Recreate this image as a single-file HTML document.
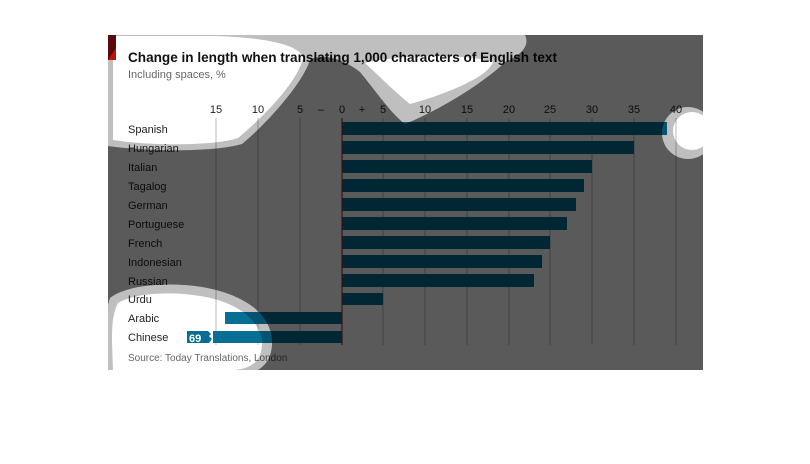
<!DOCTYPE html>
<html><head><meta charset="utf-8"><style>
body{margin:0;background:#fff;width:810px;height:464px;overflow:hidden}
svg{display:block;font-family:"Liberation Sans",sans-serif}
</style></head><body>
<svg width="810" height="464" viewBox="0 0 810 464">
<defs>
<mask id="m">
<rect x="0" y="0" width="810" height="464" fill="#fff"/>
<g fill="#636363">
<path d="M108,35 L525,35 C530,45 522,55 505,62 C485,82 440,110 405,124 C392,115 375,90 360,72 C345,60 322,52 310,60 C302,85 265,125 242,144 C215,152 150,152 108,146 Z"/>
<circle cx="688" cy="133" r="26"/>
<path d="M110,298 C128,284 170,282 202,287 C242,294 270,312 272,340 C273,360 262,372 245,374 L108,374 C106,340 104,315 110,298 Z"/>
</g>
<g fill="#000">
<path d="M113,36 L215,36 C272,38 300,46 303,58 C298,82 262,118 238,138 C215,146 150,146 113,140 Z"/>
<path d="M365,63 C400,54 470,54 493,62 C488,78 440,96 410,104 C395,92 378,75 365,63 Z"/>
<circle cx="692" cy="131" r="19"/>
<path d="M118,303 C135,293 170,291 200,296 C233,301 258,317 262,340 C263,358 255,368 235,370 L113,370 C112,340 110,318 118,303 Z"/>
</g>
</mask>
</defs>
<rect x="108" y="35" width="595" height="335" fill="#fff"/>
<text x="128" y="62" font-size="14" font-weight="bold" fill="#111" textLength="429" lengthAdjust="spacingAndGlyphs">Change in length when translating 1,000 characters of English text</text>
<text x="128" y="78" font-size="11" fill="#666">Including spaces, %</text>
<g stroke="#b9b9b9" stroke-width="1">
<line x1="216" y1="118" x2="216" y2="345"/><line x1="258" y1="118" x2="258" y2="345"/><line x1="300" y1="118" x2="300" y2="345"/>
<line x1="383" y1="118" x2="383" y2="345"/><line x1="425" y1="118" x2="425" y2="345"/><line x1="467" y1="118" x2="467" y2="345"/>
<line x1="509" y1="118" x2="509" y2="345"/><line x1="550" y1="118" x2="550" y2="345"/><line x1="592" y1="118" x2="592" y2="345"/>
<line x1="634" y1="118" x2="634" y2="345"/><line x1="676" y1="118" x2="676" y2="345"/>
</g>
<g font-size="11" fill="#222" text-anchor="middle">
<text x="216" y="113">15</text><text x="258" y="113">10</text><text x="300" y="113">5</text><text x="321" y="113">–</text>
<text x="342" y="113">0</text><text x="362" y="113">+</text><text x="383" y="113">5</text><text x="425" y="113">10</text>
<text x="467" y="113">15</text><text x="509" y="113">20</text><text x="550" y="113">25</text><text x="592" y="113">30</text>
<text x="634" y="113">35</text><text x="676" y="113">40</text>
</g>
<g fill="#076f93">
<rect x="342" y="122" width="325" height="13"/><rect x="342" y="141" width="292" height="13"/>
<rect x="342" y="160" width="250" height="13"/><rect x="342" y="179" width="242" height="13"/>
<rect x="342" y="198" width="234" height="13"/><rect x="342" y="217" width="225" height="13"/>
<rect x="342" y="236" width="208" height="13"/><rect x="342" y="255" width="200" height="13"/>
<rect x="342" y="274" width="192" height="13"/><rect x="342" y="293" width="41" height="12"/>
<rect x="225" y="312" width="117" height="12"/><rect x="187" y="331" width="155" height="12"/>
</g>
<path d="M208,331 l3,3 l-2,2 l3,3 l-3,4 h4 v-12 z" fill="#fff"/>
<text x="189" y="342" font-size="11" font-weight="bold" fill="#fff">69</text>
<line x1="342" y1="118" x2="342" y2="345" stroke="#a33" stroke-width="1.2"/>
<g font-size="11" fill="#222">
<text x="128" y="133">Spanish</text><text x="128" y="152">Hungarian</text><text x="128" y="171">Italian</text>
<text x="128" y="190">Tagalog</text><text x="128" y="209">German</text><text x="128" y="228">Portuguese</text>
<text x="128" y="247">French</text><text x="128" y="266">Indonesian</text><text x="128" y="285">Russian</text>
<text x="128" y="303">Urdu</text><text x="128" y="322">Arabic</text><text x="128" y="341">Chinese</text>
</g>
<text x="128" y="361" font-size="10" fill="#666">Source: Today Translations, London</text>
<rect x="108" y="35" width="595" height="335" fill="#000" opacity="0.643" mask="url(#m)"/>
<rect x="108" y="35" width="8" height="25" fill="#5a0a0a"/>
<path d="M108,60 L116,48 L116,60 Z" fill="#c0100a"/>
</svg>
</body></html>
